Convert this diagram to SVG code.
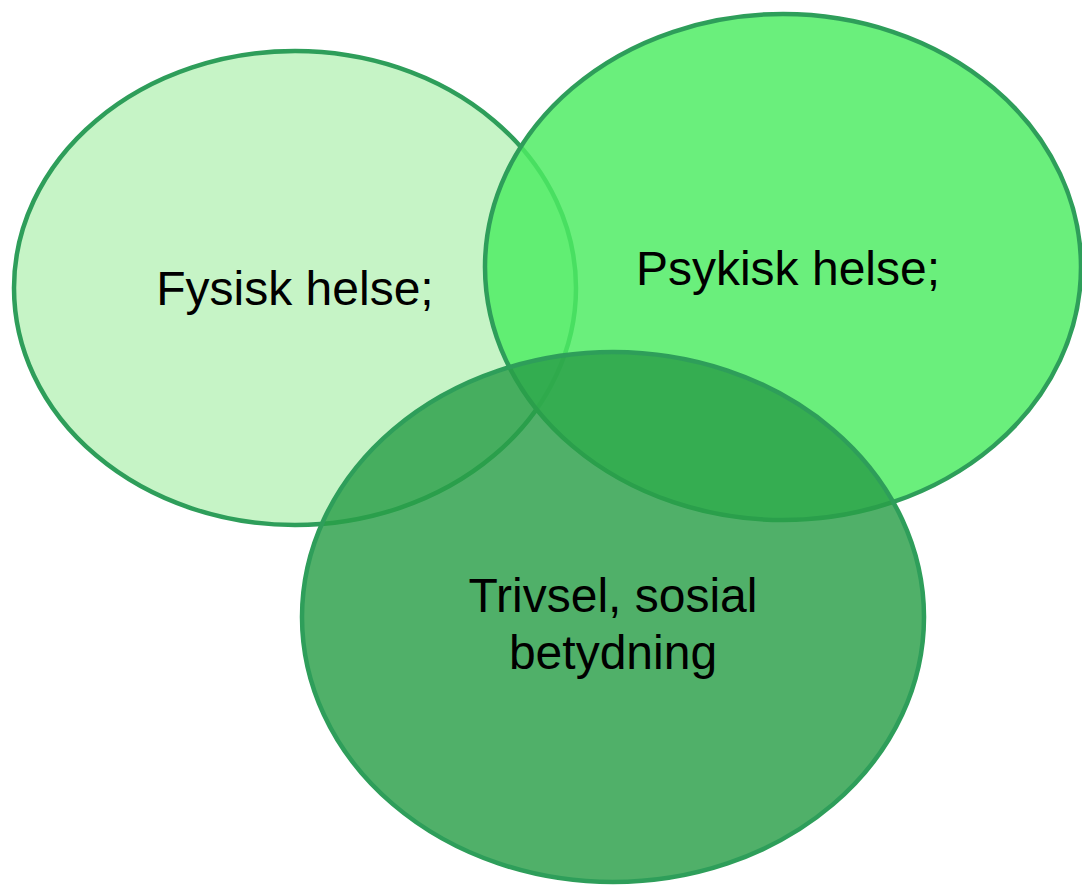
<svg xmlns="http://www.w3.org/2000/svg" width="1082" height="885" viewBox="0 0 1082 885">
<style>
.node ellipse{stroke:#2e9e5a;stroke-width:4.5}
.lbl{font-family:"Liberation Sans",Arial,sans-serif;font-size:48px;fill:#000;text-anchor:middle}
</style>
<rect width="1082" height="885" fill="#fff"/>
<g id="fysisk" class="node">
<ellipse cx="295" cy="288" rx="281" ry="237" fill="#c6f4c6"/>
<text class="lbl" x="295" y="305">Fysisk helse;</text>
</g>
<g id="psykisk" class="node">
<ellipse cx="783" cy="267" rx="298" ry="253" fill="#4eec63" fill-opacity="0.84"/>
<text class="lbl" x="788" y="285">Psykisk helse;</text>
</g>
<g id="trivsel" class="node">
<ellipse cx="613" cy="617" rx="311" ry="265" fill="#2a9f48" fill-opacity="0.82"/>
<text class="lbl" x="613" y="612">Trivsel, sosial</text>
<text class="lbl" x="613" y="669">betydning</text>
</g>
<g id="connectors"/>
</svg>
